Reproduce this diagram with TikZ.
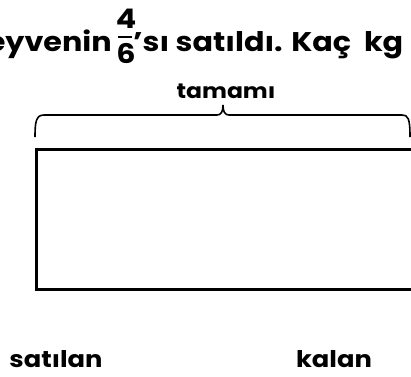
\documentclass[tikz,border=0pt]{standalone}
\usepackage{fontspec}
\setmainfont{Poppins}[FakeStretch=1.12]
\tikzset{
  word/.style={font=\bfseries\fontsize{27}{30}\selectfont, inner sep=0pt, anchor=base west},
  label/.style={font=\bfseries\fontsize{23}{26}\selectfont, inner sep=0pt, anchor=base},
  digit/.style={font=\fontsize{27}{30}\selectfont, inner sep=0pt},
}
\begin{document}
\begin{tikzpicture}[x=1pt,y=-1pt]
  \useasboundingbox (0,0) rectangle (411,376);
  % question line, cut at both sides
  \node[word, anchor=base east] (left) at (112,51) {eyvenin};
  \node[digit, anchor=base] (num) at (125,28) {$\mathbf{4}$};
  \node[digit, anchor=base] (den) at (125,63) {$\mathbf{6}$};
  \draw[line width=2.4pt] (118,37) -- (132,37);
  \node[word] (right) at (133,51) {’sı satıldı. Kaç\ \ kg};
  % whole amount
  \node[label, font=\bfseries\fontsize{21}{24}\selectfont] (whole) at (226,98) {tamamı};
  \coordinate (bl) at (35,137);
  \coordinate (br) at (410,137);
  \coordinate (tip) at (223,105);
  \draw[line width=1.6pt] (bl) .. controls (35,122) and (36,115) .. (44,115)
    -- (217,115) .. controls (221,115) and (223,112) .. (tip)
    .. controls (223,112) and (225,115) .. (229,115) -- (402,115)
    .. controls (408,115) and (410,118) .. (br);
  % the bar
  \node[draw, line width=2.6pt, minimum width=400pt, minimum height=140pt,
    anchor=north west, inner sep=0pt] (bar) at (35,148) {};
  \node[label] (sold) at (56,367) {satılan};
  \node[label] (rest) at (334,367) {kalan};
\end{tikzpicture}
\end{document}
